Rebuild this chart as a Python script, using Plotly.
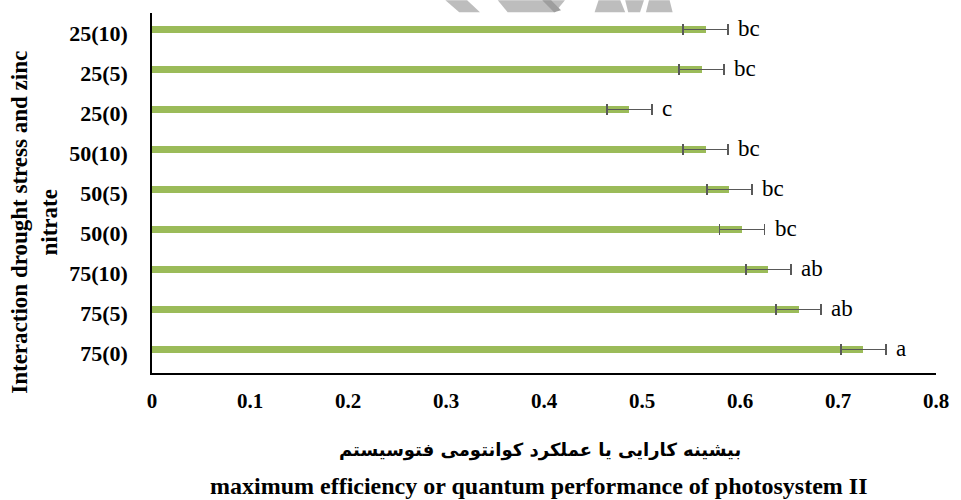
import plotly.graph_objects as go

# Treatments: drought level (zinc nitrate dose), listed top to bottom
treatments = ["25(10)", "25(5)", "25(0)", "50(10)", "50(5)", "50(0)",
              "75(10)", "75(5)", "75(0)"]
fv_fm = [0.565, 0.561, 0.487, 0.565, 0.589, 0.602, 0.629, 0.660, 0.726]
std_err = [0.023, 0.023, 0.023, 0.023, 0.023, 0.023, 0.023, 0.023, 0.023]
groups = ["bc", "bc", "c", "bc", "bc", "bc", "ab", "ab", "a"]

x_ticks = [0, 0.1, 0.2, 0.3, 0.4, 0.5, 0.6, 0.7, 0.8]
x_tick_text = ["0", "0.1", "0.2", "0.3", "0.4", "0.5", "0.6", "0.7", "0.8"]

BAR_W = 0.175
BAR_SHIFT = 0.085  # bars sit slightly above the band centre

W, H = 961, 500
L, R, T, B = 152, 15.4, 12.7, 127.3
PW, PH = W - L - R, H - T - B

SERIF = "Liberation Serif, Times New Roman, serif"

fig = go.Figure()
fig.add_trace(go.Bar(
    y=treatments, x=fv_fm, orientation="h",
    width=BAR_W, offset=-BAR_W / 2 - BAR_SHIFT,
    marker=dict(color="#9BBB59", line=dict(width=0)),
    error_x=dict(type="data", array=std_err, visible=True,
                 color="#595959", thickness=1.7, width=5.5),
    showlegend=False, hoverinfo="x+y",
))

# significance letters to the right of each error bar
for i, (v, e, g) in enumerate(zip(fv_fm, std_err, groups)):
    fig.add_annotation(x=v + e, y=i - BAR_SHIFT, text=g, showarrow=False,
                       xanchor="left", yanchor="middle", xshift=8, yshift=1,
                       font=dict(family=SERIF, size=23, color="#000"))


def px(x, y):
    return (x - L) / PW, (H - B - y) / PH


def poly(points):
    parts = []
    for k, (x, y) in enumerate(points):
        u, v = px(x, y)
        parts.append(("M" if k == 0 else "L") + f"{u:.5f},{v:.5f}")
    return " ".join(parts) + " Z"


# faint grey logo fragments along the top edge
logo_bits = [
    [(449, 0), (471, 0), (484, 12), (463, 12)],
    [(502, 0), (570, 0), (560, 12), (512, 12)],
    [(604, 0), (626, 0), (631, 12), (600, 12)],
    [(631, 0), (650, 0), (646, 12), (634, 12)],
    [(655, 0), (676, 0), (679, 12), (652, 12)],
]
for pts in logo_bits:
    fig.add_shape(type="path", path=poly(pts), xref="paper", yref="paper",
                  fillcolor="#BDBDBD", line=dict(width=0), layer="below")
fig.add_shape(type="path", path=poly([(547, 0), (556, 0), (566, 10), (559, 12)]),
              xref="paper", yref="paper", fillcolor="#9E9E9E",
              line=dict(width=0), layer="below")

# y-axis title (two lines, rotated)
fig.add_annotation(x=(33 - L) / PW, y=(H - B - 222) / PH, xref="paper", yref="paper",
                   text="<b>Interaction drought stress and zinc<br>nitrate</b>",
                   textangle=-90, showarrow=False, xanchor="center", yanchor="middle",
                   font=dict(family=SERIF, size=23, color="#000"))
# x-axis titles: Persian then English
fig.add_annotation(x=(545 - L) / PW, y=(H - B - 450) / PH, xref="paper", yref="paper",
                   text="<b>بیشینه کارایی یا عملکرد کوانتومی فتوسیستم</b>",
                   showarrow=False, xanchor="center", yanchor="middle",
                   font=dict(family="DejaVu Sans, sans-serif", size=18, color="#000"))
fig.add_annotation(x=(543 - L) / PW, y=(H - B - 486) / PH, xref="paper", yref="paper",
                   text="<b>maximum efficiency or quantum performance of photosystem II</b>",
                   showarrow=False, xanchor="center", yanchor="middle",
                   font=dict(family=SERIF, size=24, color="#000"))

fig.update_layout(
    width=W, height=H,
    margin=dict(l=L, r=R, t=T, b=B, pad=0),
    paper_bgcolor="white", plot_bgcolor="white",
    bargap=0,
    xaxis=dict(range=[0, 0.8], tickvals=x_ticks, ticktext=x_tick_text,
               showgrid=False, zeroline=False, showline=True,
               linecolor="#000", linewidth=1.5, ticks="",
               ticklabelstandoff=8,
               tickfont=dict(family=SERIF, size=21, color="#000", weight="bold")),
    yaxis=dict(autorange="reversed", showgrid=False, zeroline=False,
               showline=True, linecolor="#000", linewidth=1.5, ticks="",
               ticklabelstandoff=18,
               tickfont=dict(family=SERIF, size=22, color="#000", weight="bold")),
)

fig.write_html("out.html")
